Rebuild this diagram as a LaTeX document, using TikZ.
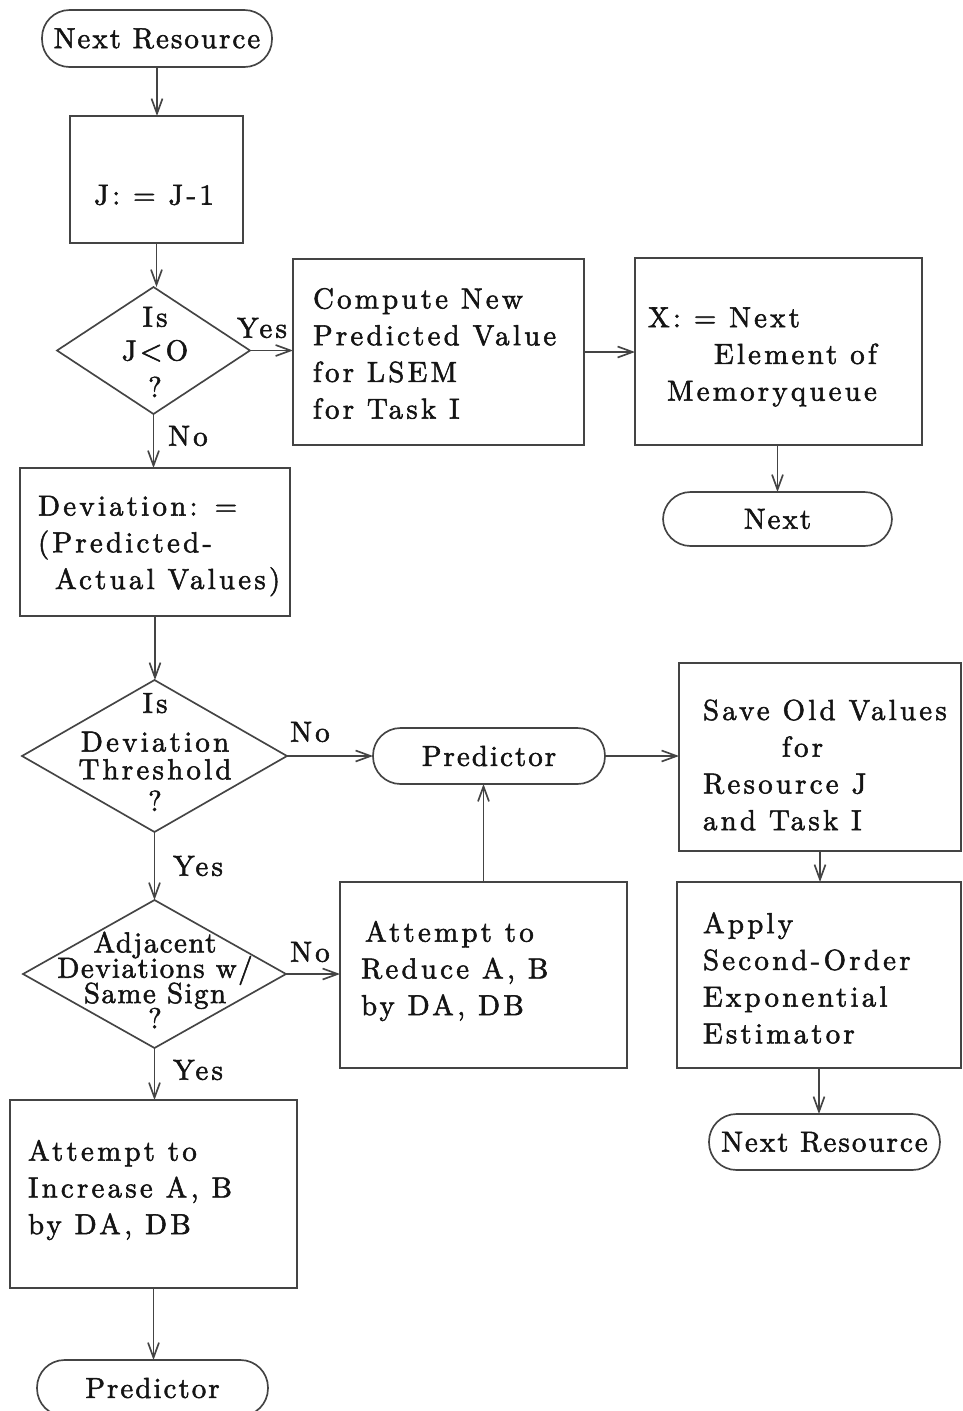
\documentclass[tikz,border=0pt]{standalone}
\usepackage{fontspec}
\usetikzlibrary{shapes.geometric,arrows.meta}
\definecolor{linec}{HTML}{444444}
\definecolor{textc}{HTML}{141414}
\newfontfamily\dfam{lmroman10-regular.otf}[LetterSpace=11,FakeBold=1.8]
\newfontfamily\tfam{lmroman10-regular.otf}[LetterSpace=7,FakeBold=1.8]
\newfontfamily\cfam{lmroman10-regular.otf}[LetterSpace=5,FakeBold=1.8]
\newcommand{\dfont}{\dfam\fontsize{16.5}{20.9}\selectfont}
\newcommand{\termfont}{\tfam\fontsize{16.5}{20.9}\selectfont}
\newcommand{\dtightfont}{\cfam\fontsize{16.5}{14.4}\selectfont\lineskiplimit=-20pt}
\begin{document}
\begin{tikzpicture}[x=0.02cm,y=-0.02cm,
  every node/.style={text=textc, font=\dfont, outer sep=0pt},
  box/.style={draw=linec, line width=0.95pt, rectangle, inner sep=0pt},
  term/.style={draw=linec, line width=0.95pt, rectangle, rounded corners=0.55cm, inner sep=0pt, minimum width=4.62cm, minimum height=1.12cm, font=\termfont},
  dia/.style={draw=linec, line width=0.95pt, diamond, inner sep=0pt},
  txt/.style={align=left, inner sep=0pt, anchor=west},
  ctxt/.style={align=center, inner sep=0pt},
  lbl/.style={inner sep=0pt},
  arr/.style={draw=linec, line width=0.95pt, -{Straight Barb[length=0.3cm,width=0.22cm]}}
]
\useasboundingbox (0,0) rectangle (963,1411);
\clip (0,0) rectangle (963,1411);

% left column
\node[term, minimum width=4.6cm, minimum height=1.14cm] (start) at (157,38.5) {Next Resource};
\node[box, minimum width=3.46cm, minimum height=2.54cm] (jbox) at (156.5,179.5) {};
\node[lbl] (jtext) at (154,195) {J: = J-1};
\node[dia, minimum width=3.86cm, minimum height=2.54cm] (d1) at (153.5,350.5) {};
\node[ctxt] (d1t) at (155,352) {Is\\[-0.06cm]J<O\\?};

\node[box, minimum width=5.4cm, minimum height=2.96cm] (dev) at (155,542) {};
\node[txt] (devt) at (38,546) {Deviation: =\\(Predicted-\\\hspace*{0.34cm}Actual Values)};

\node[dia, minimum width=5.3cm, minimum height=3.04cm] (d2) at (154.5,756) {};
\node[ctxt] (d2t) at (155,752) {Is\\[0.04cm]Deviation\\[-0.18cm]Threshold\\[-0.1cm]?};

\node[dia, minimum width=5.26cm, minimum height=2.96cm] (d3) at (154.5,974) {};
\node[ctxt, font=\dtightfont] (d3t) at (155,980) {Adjacent\\Deviations w/\\Same Sign\\?};

\node[box, minimum width=5.74cm, minimum height=3.76cm] (inc) at (153.5,1194) {};
\node[txt] (inct) at (28,1190) {Attempt to\\Increase A, B\\by DA, DB};

\node[term] (pred2) at (152.5,1388) {Predictor};

% middle column
\node[box, minimum width=5.82cm, minimum height=3.72cm] (comp) at (438.5,352) {};
\node[txt] (compt) at (313,353.5) {Compute New\\Predicted Value\\for LSEM\\for Task I};

\node[term, minimum width=4.64cm] (pred) at (489,756) {Predictor};

\node[box, minimum width=5.74cm, minimum height=3.72cm] (red) at (483.5,975) {};
\node[txt] (redt) at (361,971) {\hspace*{0.08cm}Attempt to\\Reduce A, B\\by DA, DB};

% right column
\node[box, minimum width=5.74cm, minimum height=3.74cm] (xbox) at (778.5,351.5) {};
\node[txt] (xt) at (648,357) {X: = Next\\\hspace*{1.32cm}Element of\\\hspace*{0.38cm}Memoryqueue};

\node[term, minimum width=4.58cm, minimum height=1.08cm] (nxt) at (777.5,519) {Next};

\node[box, minimum width=5.64cm, minimum height=3.76cm] (save) at (820,757) {};
\node[txt] (savet) at (703,765) {Save Old Values\\\hspace*{1.58cm}for\\Resource J\\and Task I};

\node[box, minimum width=5.68cm, minimum height=3.72cm] (apply) at (819,975) {};
\node[txt] (applyt) at (703,978) {Apply\\Second-Order\\Exponential\\Estimator};

\node[term] (nres) at (824.5,1142) {Next Resource};

% labels
\node[lbl] (l1) at (262,328) {Yes};
\node[lbl] (l2) at (188,436) {No};
\node[lbl] (l3) at (310,732) {No};
\node[lbl] (l4) at (198,866) {Yes};
\node[lbl] (l5) at (310,952) {No};
\node[lbl] (l6) at (198,1070) {Yes};

% connectors
\draw[arr] (start.south) -- (start.south |- jbox.north);
\draw[arr] (jbox.south) -- (jbox.south |- d1.north);
\draw[arr] (d1.east) -- (d1.east -| comp.west);
\draw[arr] (comp.east) -- (comp.east -| xbox.west);
\draw[arr] (nxt.north |- xbox.south) -- (nxt.north);
\draw[arr] (d1.south) -- (d1.south |- dev.north);
\draw[arr] (dev.south) -- (dev.south |- d2.north);
\draw[arr] (d2.east) -- (d2.east -| pred.west);
\draw[arr] (pred.east) -- (pred.east -| save.west);
\draw[arr] (save.south) -- (save.south |- apply.north);
\draw[arr] (apply.south) -- (apply.south |- nres.north);
\draw[arr] (d2.south) -- (d2.south |- d3.north);
\draw[arr] (d3.east) -- (d3.east -| red.west);
\draw[arr] (red.north) -- (red.north |- pred.south);
\draw[arr] (d3.south) -- (d3.south |- inc.north);
\draw[arr] (inc.south) -- (inc.south |- pred2.north);
\end{tikzpicture}
\end{document}
